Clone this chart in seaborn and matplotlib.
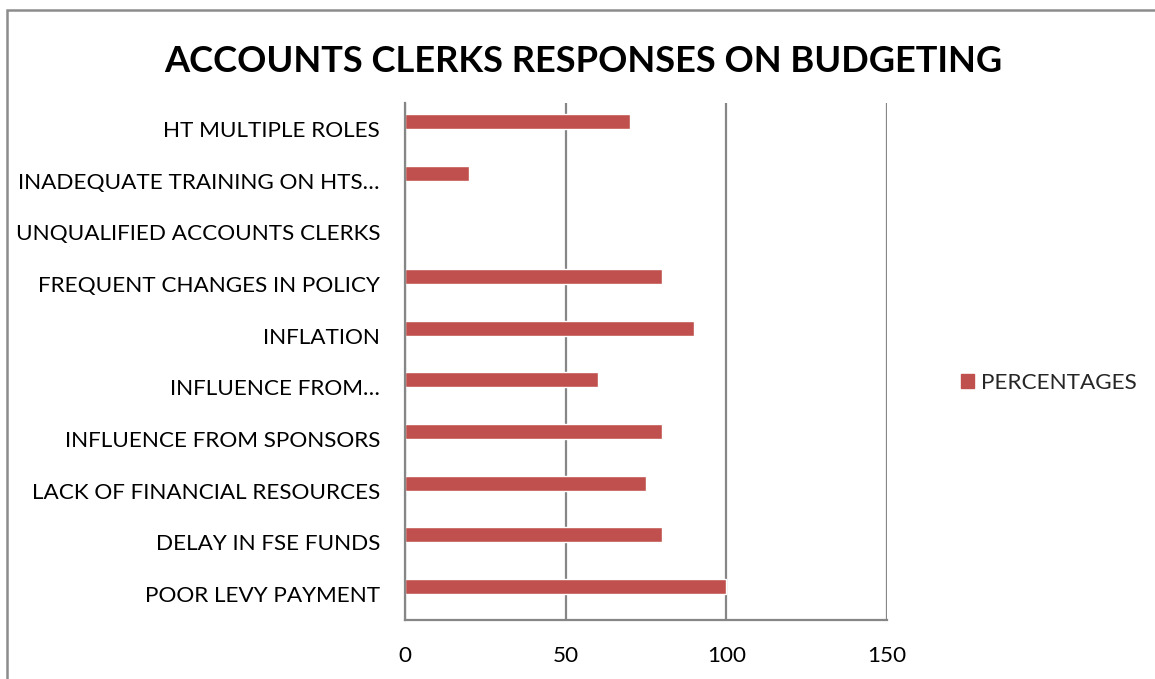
import matplotlib
matplotlib.use("Agg")
import matplotlib.pyplot as plt
import matplotlib.patches as mpatches
import pandas as pd
import seaborn as sns

categories = [
    "HT MULTIPLE ROLES",
    "INADEQUATE TRAINING ON HTS…",
    "UNQUALIFIED ACCOUNTS CLERKS",
    "FREQUENT CHANGES IN POLICY",
    "INFLATION",
    "INFLUENCE FROM…",
    "INFLUENCE FROM SPONSORS",
    "LACK OF FINANCIAL RESOURCES",
    "DELAY IN FSE FUNDS",
    "POOR LEVY PAYMENT",
]
percentages = [70, 20, 0, 80, 90, 60, 80, 75, 80, 100]
series_name = "PERCENTAGES"
x_ticks = [0, 50, 100, 150]
title = "ACCOUNTS CLERKS RESPONSES ON BUDGETING"

bar_color = "#C0504D"
grid_color = "#868686"
font = "Lato"

# The series shares each category slot with an empty companion series,
# so the bar sits in the upper half of its slot.
df = pd.DataFrame({
    "category": categories * 2,
    "value": percentages + [float("nan")] * len(categories),
    "series": [series_name] * len(categories) + ["_blank"] * len(categories),
})

sns.set_style("white")
plt.rcParams["font.family"] = [font, "DejaVu Sans"]

fig = plt.figure(figsize=(11.55, 6.79), dpi=100)
ax = fig.add_axes([405 / 1155, 1 - 620 / 679, 482 / 1155, 517 / 679])

sns.barplot(
    data=df, x="value", y="category", hue="series",
    hue_order=[series_name, "_blank"], order=categories,
    palette=[bar_color, bar_color], width=0.58, dodge=True,
    orient="h", ax=ax, legend=False, errorbar=None, saturation=1,
)

ax.set_xlim(0, 150)
ax.set_xticks(x_ticks)
ax.set_xticklabels([str(t) for t in x_ticks])
ax.set_xlabel("")
ax.set_ylabel("")
ax.set_ylim(len(categories) - 0.5, -0.5)

ax.xaxis.grid(True, color=grid_color, linewidth=1.6)
ax.yaxis.grid(False)
ax.set_axisbelow(True)
for side in ["top", "right"]:
    ax.spines[side].set_visible(False)
for side in ["left", "bottom"]:
    ax.spines[side].set_visible(True)
    ax.spines[side].set_color(grid_color)
    ax.spines[side].set_linewidth(1.6)

label_size = 16.2
ax.tick_params(axis="y", length=0, pad=18, labelsize=label_size, labelcolor="black")
ax.tick_params(axis="x", length=0, pad=19, labelsize=label_size, labelcolor="black")

fig.text(583 / 1155, 1 - 61 / 679, title, ha="center", va="center",
         fontsize=26.1, fontweight="bold", color="black")

handle = mpatches.Patch(color=bar_color, label=series_name)
fig.legend(handles=[handle], loc="center left",
           bbox_to_anchor=(941 / 1155, 1 - 383 / 679), frameon=False,
           fontsize=label_size, handlelength=0.58, handleheight=0.58,
           handletextpad=0.3)

# Outer chart frame
fig.patches.append(mpatches.Rectangle(
    (7 / 1155, -0.05), 1.1, 1 - 10 / 679 + 0.05,
    transform=fig.transFigure, fill=False, edgecolor="#8C8C8C",
    linewidth=1.8, clip_on=False))

fig.savefig("out.png", dpi=100, facecolor="white")
